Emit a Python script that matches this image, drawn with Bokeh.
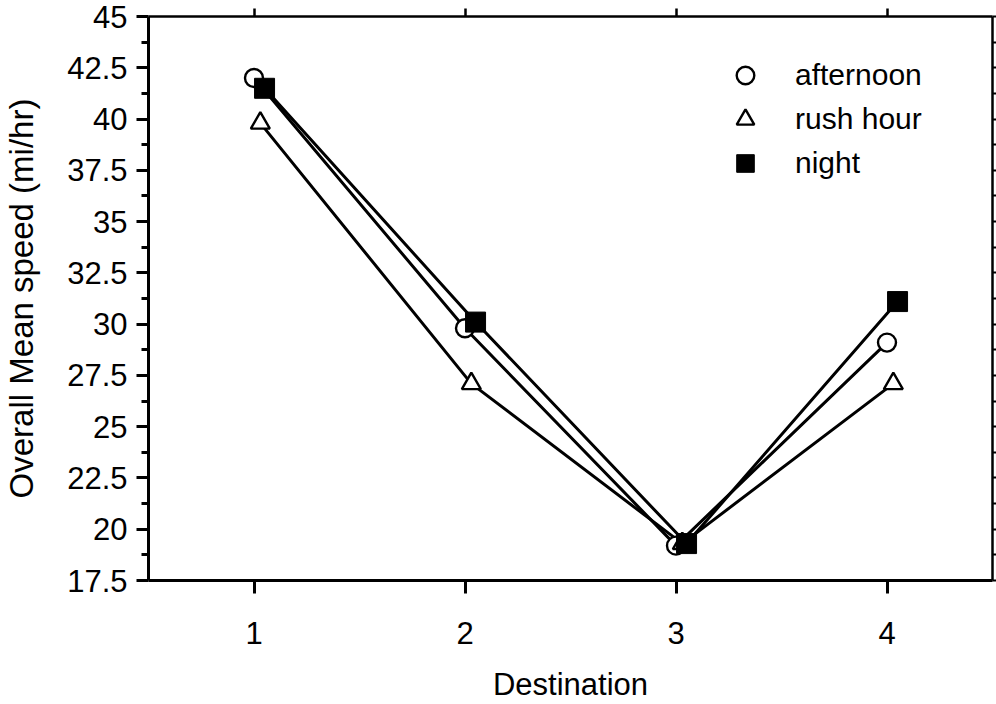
from bokeh.plotting import figure
from bokeh.models import (LinearAxis, FixedTicker, CustomJSTickFormatter, Range1d,
                          Legend, LegendItem, ColumnDataSource)
from bokeh.transform import dodge
from bokeh.embed import file_html
from bokeh.resources import INLINE

# ---- data ----
destinations = [1, 2, 3, 4]
afternoon = [42.0, 29.8, 19.2, 29.1]
rush_hour = [39.8, 27.1, 19.3, 27.1]
night = [41.5, 30.1, 19.3, 31.1]

x_ticks = [1, 2, 3, 4]
y_ticks = [17.5, 20, 22.5, 25, 27.5, 30, 32.5, 35, 37.5, 40, 42.5, 45]

FONT = "Liberation Sans"

src = ColumnDataSource(dict(dest=destinations, afternoon=afternoon,
                            rush=rush_hour, night=night))

p = figure(width=996, height=704, output_backend="svg", toolbar_location=None,
           x_range=Range1d(0.5, 4.5), y_range=Range1d(17.5, 45),
           x_axis_location=None, y_axis_location=None,
           min_border_left=148, min_border_right=4, min_border_top=16,
           min_border_bottom=122)
p.xgrid.visible = False
p.ygrid.visible = False
p.outline_line_color = None
p.background_fill_color = "white"
p.border_fill_color = "white"

y_minor = [(a + b) / 2 for a, b in zip(y_ticks[:-1], y_ticks[1:])]
fmt = CustomJSTickFormatter(code="return tick.toString();")
blank = CustomJSTickFormatter(code="return '';")

# bottom axis
xb = LinearAxis(ticker=FixedTicker(ticks=x_ticks), formatter=fmt,
                axis_label="Destination",
                axis_line_width=3, major_tick_line_width=3,
                major_tick_out=13, major_tick_in=0, minor_tick_out=0,
                major_label_standoff=28, axis_label_standoff=20,
                major_label_text_font=FONT, major_label_text_font_size="31px",
                axis_label_text_font=FONT, axis_label_text_font_size="31px",
                axis_label_text_font_style="normal",
                major_label_text_color="black", axis_label_text_color="black")
p.add_layout(xb, "below")

# left axis
yl = LinearAxis(ticker=FixedTicker(ticks=y_ticks, minor_ticks=y_minor), formatter=fmt,
                axis_label="Overall Mean speed (mi/hr)",
                axis_line_width=3, major_tick_line_width=3, minor_tick_line_width=3,
                major_tick_out=12, major_tick_in=0, minor_tick_out=7, minor_tick_in=0,
                major_label_standoff=9, axis_label_standoff=24,
                major_label_text_font=FONT, major_label_text_font_size="31px",
                axis_label_text_font=FONT, axis_label_text_font_size="33px",
                axis_label_text_font_style="normal",
                major_label_text_color="black", axis_label_text_color="black")
p.add_layout(yl, "left")

# top axis (ticks only)
xt = LinearAxis(ticker=FixedTicker(ticks=x_ticks), formatter=blank,
                axis_line_width=2.5, major_tick_line_width=2.5,
                major_tick_out=8, major_tick_in=0, minor_tick_out=0,
                major_label_standoff=0, major_label_text_font_size="1px")
p.add_layout(xt, "above")

# right axis (ticks only)
yr = LinearAxis(ticker=FixedTicker(ticks=y_ticks, minor_ticks=y_minor), formatter=blank,
                axis_line_width=2.5, major_tick_line_width=2, minor_tick_line_width=2,
                major_tick_out=4, major_tick_in=0, minor_tick_out=4, minor_tick_in=0,
                major_label_standoff=0, major_label_text_font_size="1px")
p.add_layout(yr, "right")

xa = dodge("dest", 0.0, range=p.x_range)
xr = dodge("dest", 0.03, range=p.x_range)
xn = dodge("dest", 0.05, range=p.x_range)

LW = 3
p.line(x=xa, y="afternoon", source=src, line_color="black", line_width=LW)
p.line(x=xr, y="rush", source=src, line_color="black", line_width=LW)
p.line(x=xn, y="night", source=src, line_color="black", line_width=LW)

ra = p.scatter(x=xa, y="afternoon", source=src, marker="circle", size=18,
               fill_color="white", line_color="black", line_width=2.4)
rr = p.scatter(x=xr, y="rush", source=src, marker="triangle", size=19,
               fill_color="white", line_color="black", line_width=2.4)
rn = p.scatter(x=xn, y="night", source=src, marker="square", size=20,
               fill_color="black", line_color="black", line_width=1)

legend = Legend(items=[LegendItem(label="afternoon", renderers=[ra]),
                       LegendItem(label="rush hour", renderers=[rr]),
                       LegendItem(label="night", renderers=[rn])],
                location=(575, 395), orientation="vertical",
                glyph_width=44, glyph_height=44, label_height=44,
                label_standoff=28, spacing=0, padding=0, margin=0,
                border_line_color=None, background_fill_alpha=0,
                label_text_font=FONT, label_text_font_size="30px",
                label_text_color="black")
p.add_layout(legend, "center")

open("out.html", "w").write(file_html(p, INLINE))
